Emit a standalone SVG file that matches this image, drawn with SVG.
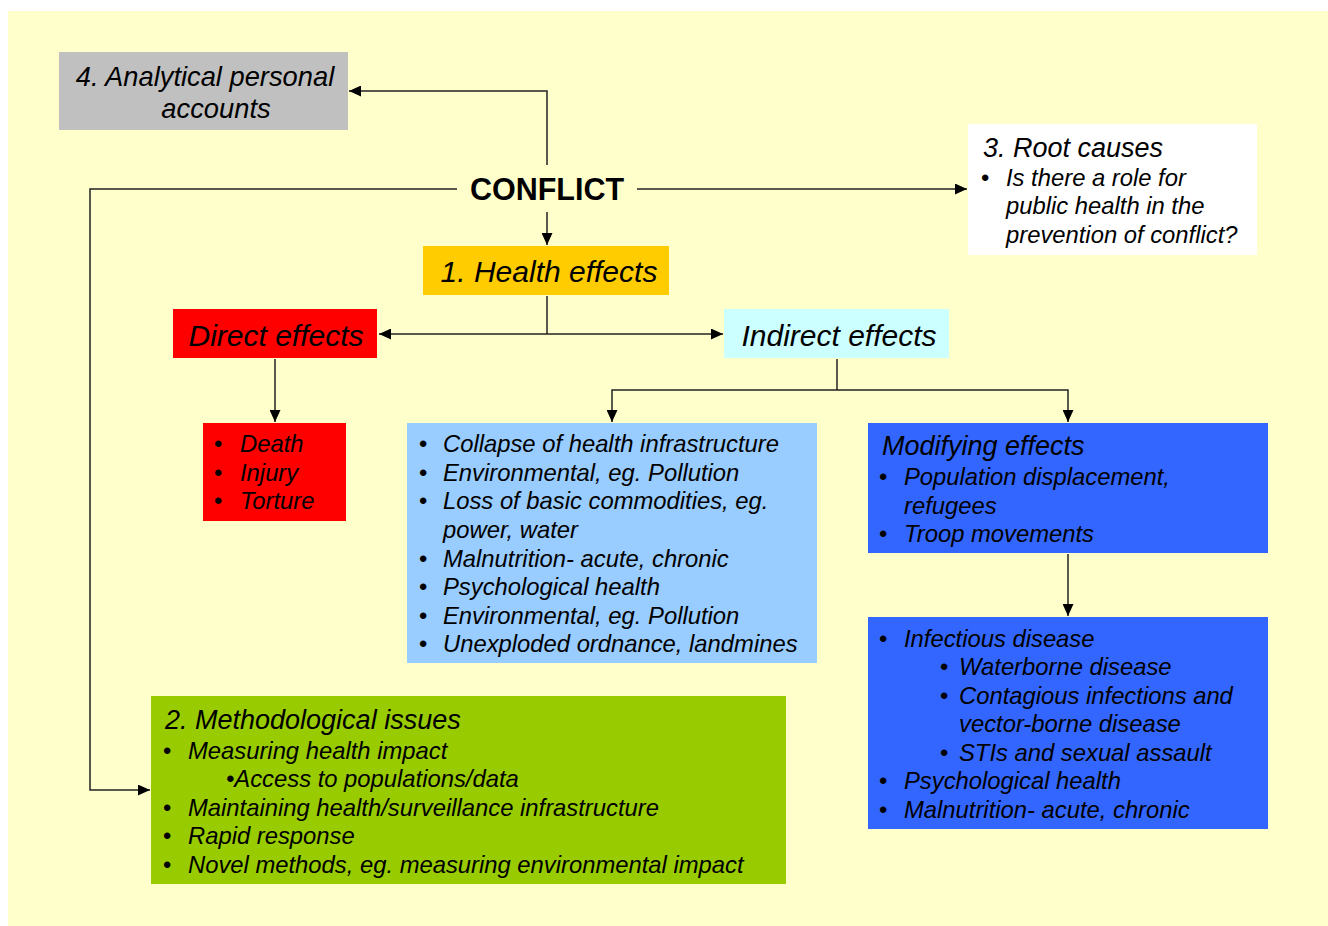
<svg xmlns="http://www.w3.org/2000/svg" width="1328" height="926" viewBox="0 0 1328 926">
<defs>
<marker id="arr" viewBox="0 0 12 11" refX="12" refY="5.5" markerWidth="12" markerHeight="11" markerUnits="userSpaceOnUse" orient="auto">
<path d="M0,0 L12,5.5 L0,11 z" fill="#000"/>
</marker>
<style>
text{font-family:"Liberation Sans",Arial,Helvetica,sans-serif;font-style:italic;fill:#000}
.t{font-size:27px}
.b{font-size:30px}
.l{font-size:23.8px}
.c{text-anchor:middle}
.n{font-style:normal}
.ln{fill:none;stroke:#222;stroke-width:1.5}
</style>
</defs>
<rect x="0" y="0" width="1328" height="926" fill="#fff"/>
<rect x="8" y="11" width="1320" height="915" fill="#FFFFCC"/>

<g id="connectors">
<path class="ln" d="M547,165 V91 H349" marker-end="url(#arr)"/>
<path class="ln" d="M457,189 H90 V790 H150" marker-end="url(#arr)"/>
<path class="ln" d="M637,189 H967" marker-end="url(#arr)"/>
<path class="ln" d="M547,212 V245" marker-end="url(#arr)"/>
<path class="ln" d="M547,296 V334"/>
<path class="ln" d="M547,334 H379" marker-end="url(#arr)"/>
<path class="ln" d="M547,334 H723" marker-end="url(#arr)"/>
<path class="ln" d="M275,359 V422" marker-end="url(#arr)"/>
<path class="ln" d="M837,359 V390"/>
<path class="ln" d="M837,390 H612 V422" marker-end="url(#arr)"/>
<path class="ln" d="M837,390 H1068 V422" marker-end="url(#arr)"/>
<path class="ln" d="M1068,554 V616" marker-end="url(#arr)"/>
</g>

<g id="conflict">
<text x="547" y="200" class="c n" style="font-weight:bold;font-size:30.5px">CONFLICT</text>
</g>

<g id="analytical">
<rect x="59" y="52" width="289" height="78" fill="#C0C0C0"/>
<text x="205" y="86" class="c" style="font-size:27.3px">4. Analytical personal</text>
<text x="216" y="118" class="c" style="font-size:27.3px">accounts</text>
</g>

<g id="root">
<rect x="968" y="124" width="289" height="131" fill="#FFFFFF"/>
<text x="983" y="157" class="t">3. Root causes</text>
<text x="981" y="186" class="l n">•</text>
<text x="1006" y="186" class="l">Is there a role for</text>
<text x="1006" y="214" class="l">public health in the</text>
<text x="1006" y="243" class="l">prevention of conflict?</text>
</g>

<g id="health">
<rect x="423" y="246" width="246" height="49" fill="#FFCC00"/>
<text x="549" y="282" class="b c">1. Health effects</text>
</g>

<g id="direct">
<rect x="173" y="309" width="204" height="49" fill="#FF0000"/>
<text x="276" y="346" class="b c">Direct effects</text>
</g>

<g id="indirect">
<rect x="724" y="309" width="225" height="49" fill="#CCFFFF"/>
<text x="839" y="346" class="b c">Indirect effects</text>
</g>

<g id="directlist">
<rect x="203" y="423" width="143" height="98" fill="#FF0000"/>
<text x="214" y="452" class="l n">•</text>
<text x="214" y="481" class="l n">•</text>
<text x="214" y="509" class="l n">•</text>
<text x="240" y="452" class="l">Death</text>
<text x="240" y="481" class="l">Injury</text>
<text x="240" y="509" class="l">Torture</text>
</g>

<g id="indirectlist">
<rect x="407" y="423" width="410" height="240" fill="#99CCFF"/>
<text x="419" y="452" class="l n">•</text>
<text x="443" y="452" class="l">Collapse of health infrastructure</text>
<text x="419" y="481" class="l n">•</text>
<text x="443" y="481" class="l">Environmental, eg. Pollution</text>
<text x="419" y="509" class="l n">•</text>
<text x="443" y="509" class="l">Loss of basic commodities, eg.</text>
<text x="443" y="538" class="l">power, water</text>
<text x="419" y="567" class="l n">•</text>
<text x="443" y="567" class="l">Malnutrition- acute, chronic</text>
<text x="419" y="595" class="l n">•</text>
<text x="443" y="595" class="l">Psychological health</text>
<text x="419" y="624" class="l n">•</text>
<text x="443" y="624" class="l">Environmental, eg. Pollution</text>
<text x="419" y="652" class="l n">•</text>
<text x="443" y="652" class="l">Unexploded ordnance, landmines</text>
</g>

<g id="modifying">
<rect x="868" y="423" width="400" height="130" fill="#3366FF"/>
<text x="882" y="455" class="t">Modifying effects</text>
<text x="879" y="485" class="l n">•</text>
<text x="904" y="485" class="l">Population displacement,</text>
<text x="904" y="514" class="l">refugees</text>
<text x="879" y="542" class="l n">•</text>
<text x="904" y="542" class="l">Troop movements</text>
</g>

<g id="infectious">
<rect x="868" y="617" width="400" height="212" fill="#3366FF"/>
<text x="879" y="647" class="l n">•</text>
<text x="904" y="647" class="l">Infectious disease</text>
<text x="940" y="675" class="l n">•</text>
<text x="959" y="675" class="l">Waterborne disease</text>
<text x="940" y="704" class="l n">•</text>
<text x="959" y="704" class="l">Contagious infections and</text>
<text x="959" y="732" class="l">vector-borne disease</text>
<text x="940" y="761" class="l n">•</text>
<text x="959" y="761" class="l">STIs and sexual assault</text>
<text x="879" y="789" class="l n">•</text>
<text x="904" y="789" class="l">Psychological health</text>
<text x="879" y="818" class="l n">•</text>
<text x="904" y="818" class="l">Malnutrition- acute, chronic</text>
</g>

<g id="methodological">
<rect x="151" y="696" width="635" height="188" fill="#99CC00"/>
<text x="165" y="729" class="t">2. Methodological issues</text>
<text x="163" y="759" class="l n">•</text>
<text x="188" y="759" class="l">Measuring health impact</text>
<text x="226" y="787" class="l">•Access to populations/data</text>
<text x="163" y="816" class="l n">•</text>
<text x="188" y="816" class="l">Maintaining health/surveillance infrastructure</text>
<text x="163" y="844" class="l n">•</text>
<text x="188" y="844" class="l">Rapid response</text>
<text x="163" y="873" class="l n">•</text>
<text x="188" y="873" class="l">Novel methods, eg. measuring environmental impact</text>
</g>
</svg>
